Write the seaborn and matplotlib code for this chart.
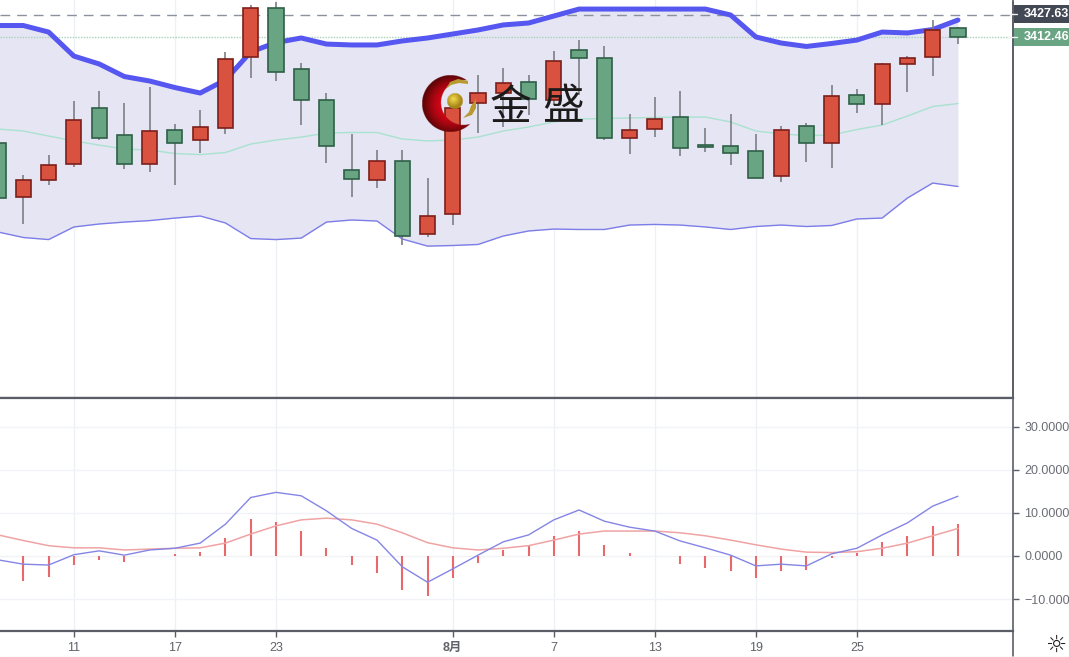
# Grafico a candele con bande e MACD
import numpy as np
import pandas as pd
import matplotlib
matplotlib.use('Agg')
import matplotlib.pyplot as plt
import seaborn as sns
from matplotlib.patches import Polygon, Rectangle

# Candele
aperture = [3341.0, 3304.6, 3316.1, 3326.8, 3364.3, 3346.4, 3326.8, 3349.8, 3343.0, 3351.1,
            3399.0, 3432.0, 3390.6, 3370.0, 3322.8, 3316.4, 3328.9, 3279.7, 3293.1, 3368.0,
            3374.7, 3382.1, 3370.0, 3403.7, 3398.3, 3344.4, 3350.4, 3358.5, 3339.7, 3339.0,
            3335.9, 3318.8, 3352.5, 3340.7, 3373.4, 3367.0, 3394.6, 3399.3, 3418.2]
massimi = [3353.1, 3319.4, 3332.9, 3369.3, 3376.1, 3368.0, 3378.8, 3353.8, 3363.3, 3402.4,
           3434.0, 3436.1, 3394.9, 3374.7, 3347.1, 3336.3, 3336.3, 3317.4, 3370.0, 3386.8,
           3391.6, 3386.8, 3403.0, 3410.4, 3406.4, 3360.6, 3372.0, 3376.1, 3351.1, 3360.6,
           3347.1, 3352.5, 3354.5, 3380.1, 3377.4, 3394.9, 3399.7, 3423.9, 3419.2]
minimi = [3299.2, 3286.4, 3312.7, 3324.8, 3343.0, 3323.5, 3321.5, 3312.7, 3334.3, 3347.1,
          3384.8, 3382.8, 3353.1, 3327.5, 3304.6, 3310.7, 3272.2, 3277.6, 3285.7, 3347.7,
          3351.8, 3359.9, 3366.6, 3373.4, 3343.0, 3333.6, 3345.0, 3332.2, 3334.9, 3326.2,
          3317.7, 3314.7, 3328.2, 3324.1, 3361.2, 3353.1, 3375.4, 3386.2, 3407.8]
chiusure = [3303.9, 3316.1, 3326.2, 3356.5, 3344.7, 3326.8, 3349.1, 3341.0, 3351.8, 3397.6,
            3432.0, 3388.9, 3370.0, 3339.3, 3316.7, 3328.9, 3278.0, 3291.8, 3364.6, 3374.7,
            3381.5, 3370.7, 3396.3, 3398.0, 3344.4, 3349.8, 3357.2, 3337.3, 3338.3, 3334.3,
            3317.7, 3349.8, 3340.7, 3372.7, 3367.0, 3394.6, 3398.3, 3417.5, 3412.46]

# Bande
banda_sup = [3420.2, 3420.2, 3415.8, 3399.6, 3394.3, 3385.8, 3382.8, 3378.4, 3374.7, 3383.5,
             3402.4, 3408.7, 3411.8, 3407.7, 3407.1, 3407.1, 3409.8, 3411.8, 3414.5, 3417.2,
             3420.6, 3421.9, 3426.6, 3431.3, 3431.3, 3431.3, 3431.3, 3431.3, 3431.3, 3427.3,
             3412.5, 3408.4, 3406.1, 3408.1, 3410.4, 3415.8, 3415.2, 3417.5, 3423.9]
banda_med = [3350.4, 3349.1, 3345.7, 3342.4, 3339.6, 3336.9, 3336.3, 3333.9, 3333.2, 3334.6,
             3340.3, 3343.0, 3345.0, 3347.7, 3348.1, 3348.1, 3343.7, 3342.4, 3343.0, 3345.0,
             3349.1, 3351.8, 3355.2, 3357.2, 3357.5, 3357.9, 3358.2, 3358.5, 3358.5, 3355.2,
             3349.1, 3347.1, 3346.0, 3346.4, 3350.1, 3353.1, 3359.2, 3365.6, 3367.6]
banda_inf = [3281.0, 3277.3, 3275.9, 3284.4, 3286.4, 3287.7, 3288.7, 3290.4, 3291.8, 3287.1,
             3276.6, 3275.9, 3276.9, 3287.7, 3289.1, 3288.4, 3276.3, 3271.5, 3271.9, 3272.6,
             3278.3, 3281.7, 3283.0, 3282.7, 3282.7, 3285.7, 3286.1, 3285.7, 3284.4, 3282.7,
             3284.7, 3285.7, 3284.7, 3285.4, 3289.8, 3290.4, 3303.9, 3314.0, 3311.7]

# MACD
dif = [-0.9, -1.9, -2.1, 0.3, 1.2, 0.2, 1.4, 1.8, 3.0, 7.4,
       13.6, 14.8, 14.0, 10.5, 6.4, 3.7, -2.5, -6.1, -3.0, 0.2,
       3.3, 4.9, 8.4, 10.7, 8.1, 6.7, 5.8, 3.5, 1.9, 0.2,
       -2.3, -1.9, -2.3, 0.5, 1.8, 4.9, 7.7, 11.6, 13.9]
dea = [4.9, 3.6, 2.4, 1.9, 1.9, 1.4, 1.6, 1.8, 1.9, 3.0,
       5.1, 7.0, 8.4, 8.8, 8.4, 7.4, 5.4, 3.1, 1.9, 1.4,
       1.8, 2.4, 3.7, 5.1, 5.8, 5.8, 5.8, 5.4, 4.7, 3.7,
       2.6, 1.6, 0.9, 0.8, 1.0, 1.8, 3.0, 4.7, 6.4]
istogramma = [0.0, -5.7, -4.8, -2.0, -0.9, -1.3, -0.1, 0.4, 1.0, 4.3,
              8.5, 7.9, 5.7, 1.9, -2.2, -3.9, -8.0, -9.4, -5.1, -1.6,
              1.5, 2.6, 4.6, 5.7, 2.6, 0.7, 0.0, -1.8, -2.9, -3.6,
              -5.1, -3.6, -3.2, -0.4, 0.8, 3.2, 4.7, 6.9, 7.4]

# Assi
tick_pos = [3, 7, 11, 18, 22, 26, 30, 34]
tick_lab = ['11', '17', '23', '8月', '7', '13', '19', '25']
macd_ticks = [30, 20, 10, 0, -10]
macd_lab = ['30.0000', '20.0000', '10.0000', '0.0000', '\u221210.0000']
prezzo_alto = 3427.63
prezzo_ult = 3412.46

df = pd.DataFrame({'n': np.arange(len(chiusure)), 'open': aperture, 'high': massimi, 'low': minimi,
                   'close': chiusure, 'sup': banda_sup, 'med': banda_med, 'inf': banda_inf,
                   'dif': dif, 'dea': dea, 'hist': istogramma})

sns.set_theme(style='white')
plt.rcParams['font.family'] = ['Liberation Sans', 'Noto Sans CJK SC', 'DejaVu Sans']

L, H = 1069, 657
fig = plt.figure(figsize=(L / 100, H / 100), dpi=100, facecolor='white')


def crea_asse(y_top, y_bot):
    return fig.add_axes([0, 1 - y_bot / H, 1013 / L, (y_bot - y_top) / H])


ax = crea_asse(0, 398)
ax2 = crea_asse(398, 631)
griglia = '#edf0f5'
inchiostro = '#5a5d66'

for a in (ax, ax2):
    a.set_xlim(0.075, 40.18)
    a.set_xticks(tick_pos)
    a.grid(True, axis='x', color=griglia, lw=1)
    a.set_axisbelow(True)
    for s in ('top', 'left'):
        a.spines[s].set_visible(False)
    a.spines['right'].set_color(inchiostro)
    a.spines['right'].set_linewidth(1.2)
    a.spines['bottom'].set_color(inchiostro)
    a.spines['bottom'].set_linewidth(1.6)

# Pannello prezzi
ax.set_ylim(3169.1, 3437.41)
ax.set_yticks([])
ax.set_xticklabels([])
ax.tick_params(axis='x', length=0)
ax.fill_between(df['n'], df['inf'], df['sup'], color='#e5e5f3', lw=0, zorder=1)
sns.lineplot(data=df, x='n', y='med', ax=ax, color='#a9e2cf', lw=1, zorder=2)
sns.lineplot(data=df, x='n', y='inf', ax=ax, color='#7d7de8', lw=1, zorder=2)
sns.lineplot(data=df, x='n', y='sup', ax=ax, color='#5656f0', lw=3.6, zorder=3)
ax.axhline(prezzo_alto, color='#8b929e', lw=1, ls=(0, (7, 5)), zorder=2)
ax.axhline(prezzo_ult, color='#a9d3bb', lw=1, ls=(0, (1, 1)), zorder=2)

rosso, rosso_bordo = '#d9523f', '#7c1f1a'
verde, verde_bordo = '#6aa583', '#2f5f48'
for _, r in df.iterrows():
    su = r['close'] >= r['open']
    ax.vlines(r['n'], r['low'], r['high'], color='#7d7f86', lw=1.2, zorder=4)
    ax.bar(r['n'], abs(r['close'] - r['open']), bottom=min(r['open'], r['close']), width=0.6,
           color=rosso if su else verde, edgecolor=rosso_bordo if su else verde_bordo, lw=1.2, zorder=5)

ax.set_xlabel('')
ax.set_ylabel('')

# Pannello MACD
ax2.set_ylim(-17.44, 36.74)
ax2.grid(True, axis='y', color='#f0f4f8', lw=1)
ax2.vlines(df['n'], 0, df['hist'], color='#e8686c', lw=1.5, zorder=2)
sns.lineplot(data=df, x='n', y='dea', ax=ax2, color='#f0a3a3', lw=1.1, zorder=3)
sns.lineplot(data=df, x='n', y='dif', ax=ax2, color='#8585e6', lw=1, zorder=3)
ax2.set_xlabel('')
ax2.set_ylabel('')
ax2.yaxis.tick_right()
ax2.set_yticks(macd_ticks)
ax2.set_yticklabels(macd_lab)
ax2.set_xticks(tick_pos)
ax2.set_xticklabels(tick_lab)
ax2.tick_params(axis='y', length=4, width=1, color=inchiostro, labelcolor='#6b6e75', labelsize=9, pad=4, right=True)
ax2.tick_params(axis='x', length=4, width=1, color=inchiostro, labelcolor='#5f6268', labelsize=9, pad=4, bottom=True)
for t in ax2.get_xticklabels():
    if t.get_text() == '8月':
        t.set_fontweight('bold')

# Livello in pixel: etichette di prezzo, logo, icona
over = fig.add_axes([0, 0, 1, 1], facecolor='none')
over.axis('off')
over.plot([1013, 1013], [631, 656], color=inchiostro, lw=1.2)
over.plot([1013, 1013], [2, 398], color=inchiostro, lw=1.2)
over.plot([0, 1013], [398, 398], color=inchiostro, lw=1.6)
over.plot([0, L], [656.5, 656.5], color='#eceef1', lw=1)

for y0, y1, testo, col in [(5, 23, '3427.63', '#434855'), (28, 46, '3412.46', '#6aa583')]:
    over.add_patch(Rectangle((1014, y0), 60, y1 - y0, color=col, lw=0))
    over.plot([1009, 1017], [(y0 + y1) / 2 - 0.5] * 2, color='#f1f3f5', lw=1)
    over.text(1024, (y0 + y1) / 2, testo, color='white', fontsize=9, fontweight='bold',
              ha='left', va='center', clip_on=True)

# Logo: mezzaluna rossa con sfumatura radiale, il centro resta trasparente
cx, cy, R = 450, 104, 28.5
ix, iy, Ri = 463, 103, 22.5
gx, gy = np.meshgrid(np.linspace(cx - R, cx + R, 240), np.linspace(cy - R, cy + R, 240))
dist = np.clip(np.hypot(gx - (cx + 2), gy - (cy + 1)) / R, 0, 1)
rosso_a = np.array([0.92, 0.02, 0.10])
rosso_b = np.array([0.38, 0.02, 0.03])
luna = np.zeros(gx.shape + (4,))
luna[..., :3] = rosso_a + (rosso_b - rosso_a) * dist[..., None] ** 2
luna[..., 3] = (np.hypot(gx - cx, gy - cy) <= R) & (np.hypot(gx - ix, gy - iy) >= Ri)
over.imshow(luna, extent=[cx - R, cx + R, cy + R, cy - R], zorder=8, aspect='auto')

bx, by, br = 455, 101, 7.7
qx, qy = np.meshgrid(np.linspace(bx - br, bx + br, 60), np.linspace(by - br, by + br, 60))
d2 = np.clip(np.hypot(qx - bx + 1.5, qy - by + 2) / br, 0, 1)
oro = np.array([0.96, 0.86, 0.30])
oro_b = np.array([0.66, 0.53, 0.10])
palla = np.zeros(qx.shape + (4,))
palla[..., :3] = oro + (oro_b - oro) * d2[..., None]
palla[..., 3] = np.hypot(qx - bx, qy - by) <= br
over.imshow(palla, extent=[bx - br, bx + br, by + br, by - br], zorder=9, aspect='auto')

over.add_patch(Polygon([[446, 89], [450, 82], [458, 79], [468, 81], [468, 84], [459, 83], [451, 85]],
                       fc='#b89a30', ec='none', zorder=9))
over.add_patch(Polygon([[463, 118], [469, 112], [471, 106], [476, 99], [476, 108], [472, 115]],
                       fc='#b89a30', ec='none', zorder=9))
over.set_xlim(0, L)
over.set_ylim(H, 0)
over.set_aspect('auto')

over.text(490, 108, '金', fontsize=30, color='#1d1a1a', family=['Noto Sans CJK SC', 'DejaVu Sans'],
          ha='left', va='center', zorder=10)
over.text(542, 108, '盛', fontsize=30, color='#1d1a1a', family=['Noto Sans CJK SC', 'DejaVu Sans'],
          ha='left', va='center', zorder=10)

# Icona impostazioni
over.text(1056, 645, '\u263c', fontsize=17, color='#222222', family=['DejaVu Sans'], ha='center', va='center')

fig.savefig('out.png', dpi=100)
